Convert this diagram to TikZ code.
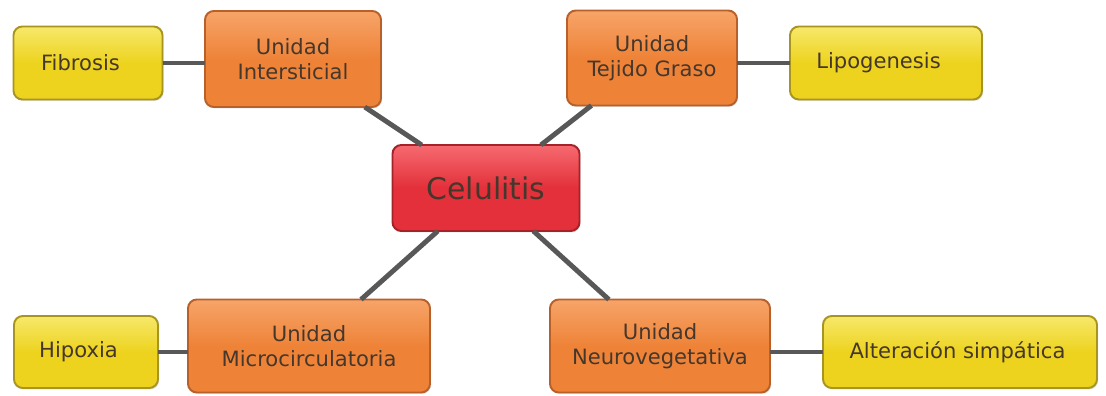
\documentclass[tikz,border=0pt]{standalone}
\usepackage{fontspec}
\setmainfont{DejaVu Sans}
\usetikzlibrary{shadows}
\definecolor{corange}{HTML}{EE8338}
\definecolor{corangehi}{HTML}{F7A469}
\definecolor{corangedk}{HTML}{B8602A}
\definecolor{cyellow}{HTML}{EDD31E}
\definecolor{cyellowhi}{HTML}{F7E86A}
\definecolor{cyellowdk}{HTML}{A89420}
\definecolor{cred}{HTML}{E3303A}
\definecolor{credhi}{HTML}{F66A70}
\definecolor{creddk}{HTML}{A42228}
\definecolor{ctext}{HTML}{45372C}
\definecolor{cline}{HTML}{585858}

\begin{document}
\begin{tikzpicture}[line join=round, font=\fontsize{12}{14.5}\selectfont,
  box/.style={rounded corners=5pt, line width=1.1pt, inner sep=2pt,
    outer sep=0pt, align=center, text=ctext,
    drop shadow={shadow xshift=0.6pt, shadow yshift=-0.8pt, opacity=0.25}},
  unitbox/.style={box, draw=corangedk, top color=corangehi, bottom color=corange,
    middle color=corange},
  leafbox/.style={box, draw=cyellowdk, top color=cyellowhi, bottom color=cyellow,
    middle color=cyellow},
  rootbox/.style={box, draw=creddk, top color=credhi, bottom color=cred,
    middle color=cred, font=\fontsize{17}{19}\selectfont},
  link/.style={cline, line width=2.8pt}]

\useasboundingbox (0,0) rectangle (22.12,-7.92);

% =================== centre ===================
\node[rootbox, minimum width=3.74cm, minimum height=1.72cm] (celulitis)
  at (9.72,-3.76) {Celulitis};

% =================== the four units ===================
\node[unitbox, minimum width=3.52cm, minimum height=1.92cm] (intersticial)
  at (5.86,-1.18) {Unidad\\Intersticial};
\node[unitbox, minimum width=3.40cm, minimum height=1.90cm] (graso)
  at (13.04,-1.16) {Unidad\\Tejido Graso};
\node[unitbox, minimum width=4.84cm, minimum height=1.86cm] (micro)
  at (6.18,-6.92) {Unidad\\Microcirculatoria};
\node[unitbox, minimum width=4.40cm, minimum height=1.86cm] (neuro)
  at (13.20,-6.92) {Unidad\\Neurovegetativa};

% =================== leaves ===================
\node[leafbox, minimum width=2.98cm, minimum height=1.46cm] (fibrosis)
  at (1.76,-1.26) {Fibrosis\hspace{0.3cm}};
\node[leafbox, minimum width=3.84cm, minimum height=1.46cm] (lipo)
  at (17.72,-1.26) {Lipogenesis\hspace{0.3cm}};
\node[leafbox, minimum width=2.88cm, minimum height=1.44cm] (hipoxia)
  at (1.72,-7.04) {Hipoxia\hspace{0.3cm}};
\node[leafbox, minimum width=5.48cm, minimum height=1.44cm] (simpatica)
  at (19.20,-7.04) {Alteración simpática\hspace{0.1cm}};

% connectors
\draw[link] (celulitis) -- (intersticial);
\draw[link] (celulitis) -- (graso);
\draw[link] (celulitis) -- (micro);
\draw[link] (celulitis) -- (neuro);
\draw[link] (fibrosis.east) -- (fibrosis.east -| intersticial.west);
\draw[link] (lipo.west) -- (lipo.west -| graso.east);
\draw[link] (hipoxia.east) -- (hipoxia.east -| micro.west);
\draw[link] (simpatica.west) -- (simpatica.west -| neuro.east);

\end{tikzpicture}
\end{document}
